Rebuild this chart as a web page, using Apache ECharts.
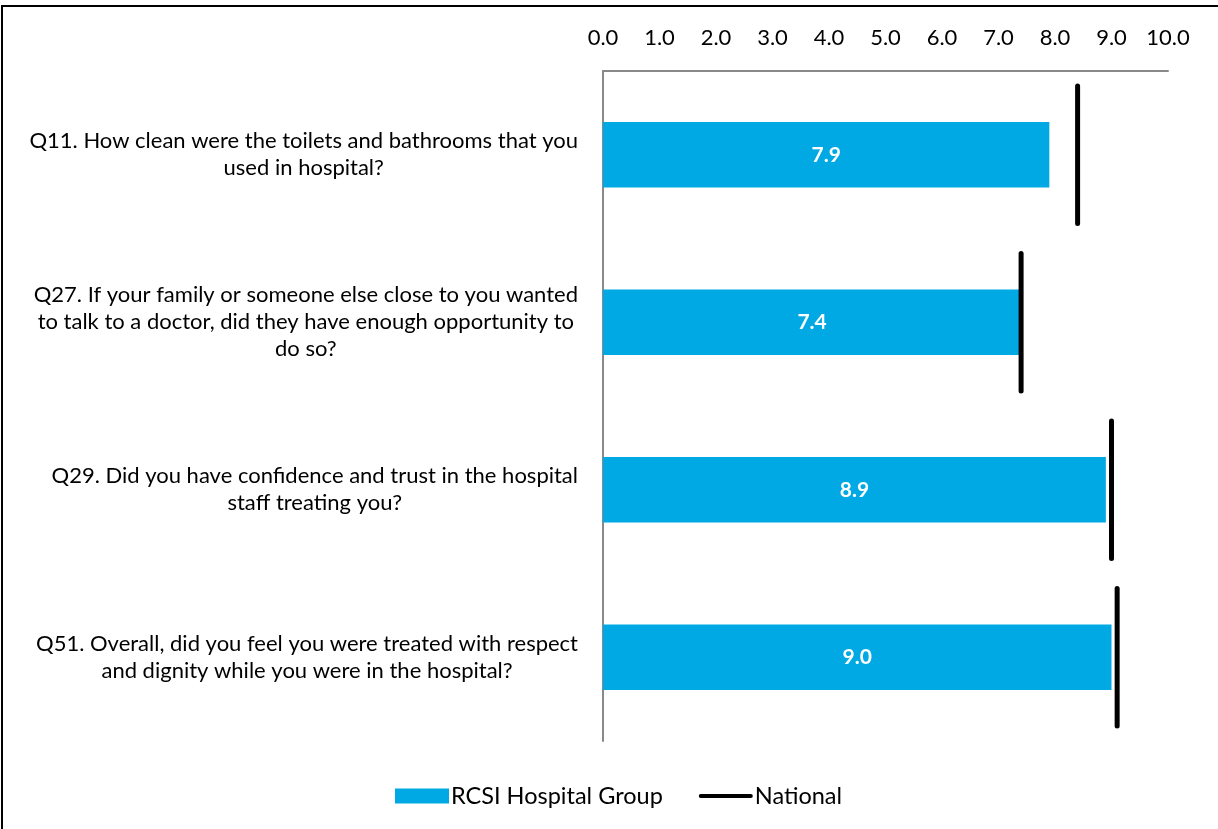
<!DOCTYPE html>
<html>
<head>
<meta charset="utf-8">
<script src="https://cdn.jsdelivr.net/npm/echarts@6/dist/echarts.min.js"></script>
<style>
  html, body { margin: 0; padding: 0; background: #fff; }
  #chart { width: 1218px; height: 829px; }
</style>
</head>
<body>
<div id="chart"></div>
<script>
// Survey questions (each entry is one label, split into its display lines)
const questions = [
  ['Q11. How clean were the toilets and bathrooms that you', 'used in hospital?'],
  ['Q27. If your family or someone else close to you wanted', 'to talk to a doctor, did they have enough opportunity to', 'do so?'],
  ['Q29. Did you have confidence and trust in the hospital', 'staff treating you?'],
  ['Q51. Overall, did you feel you were treated with respect', 'and dignity while you were in the hospital?']
];
// Mean scores (0-10)
const groupScores = [7.9, 7.4, 8.9, 9.0];
const nationalScores = [8.4, 7.4, 9.0, 9.1];
const seriesNames = ['RCSI Hospital Group', 'National'];
const scaleTicks = [0, 1, 2, 3, 4, 5, 6, 7, 8, 9, 10];

const FONT = 'Lato, "Open Sans", sans-serif';
const chart = echarts.init(document.getElementById('chart'), null, { renderer: 'canvas' });

// Each label line is a centred rich token, so lines centre inside a right-aligned block
const categoryKeys = questions.map((q, i) => 'q' + i);
const labelText = {};
questions.forEach((q, i) => { labelText[categoryKeys[i]] = q.map(l => '{c|' + l + '}').join('\n'); });

const option = {
  animation: false,
  backgroundColor: '#ffffff',
  textStyle: { fontFamily: FONT },
  grid: { left: 603, right: 50, top: 71, bottom: 88, containLabel: false },
  legend: {
    top: 779,
    left: 390,
    itemGap: 36,
    itemWidth: 54,
    itemHeight: 15,
    textStyle: { fontFamily: FONT, fontSize: 23.5, color: '#000', padding: [0, 0, 0, -3] },
    data: [
      { name: seriesNames[0], icon: 'rect' },
      { name: seriesNames[1], icon: 'path://M2,0 L54,0 A2,2 0 0 1 54,4 L2,4 A2,2 0 0 1 2,0 Z' }
    ]
  },
  xAxis: {
    type: 'value',
    position: 'top',
    min: scaleTicks[0],
    max: scaleTicks[scaleTicks.length - 1],
    interval: 1,
    axisLine: { show: true, lineStyle: { color: '#898989', width: 2 } },
    axisTick: { show: false },
    splitLine: { show: false },
    axisLabel: {
      margin: 22,
      fontFamily: FONT,
      fontSize: 22,
      color: '#000',
      formatter: v => v.toFixed(1)
    }
  },
  yAxis: {
    type: 'category',
    inverse: true,
    data: categoryKeys,
    axisLine: { show: true, lineStyle: { color: '#898989', width: 2 } },
    axisTick: { show: false },
    axisLabel: {
      margin: 25,
      align: 'right',
      fontFamily: FONT,
      fontSize: 22,
      lineHeight: 27,
      color: '#000',
      formatter: v => labelText[v],
      rich: { c: { align: 'center', fontFamily: FONT, fontSize: 22, lineHeight: 27, color: '#000' } }
    }
  },
  series: [
    {
      name: seriesNames[0],
      type: 'bar',
      data: groupScores,
      barWidth: '39%',
      itemStyle: { color: '#00a9e4' },
      label: {
        show: true,
        position: 'inside',
        color: '#fff',
        fontFamily: FONT,
        fontWeight: 'bold',
        fontSize: 21,
        formatter: p => p.value.toFixed(1)
      },
      z: 2
    },
    {
      name: seriesNames[1],
      type: 'custom',
      data: nationalScores.map((v, i) => [v, i]),
      encode: { x: 0, y: 1 },
      itemStyle: { color: '#000' },
      renderItem: function (params, api) {
        const p = api.coord([api.value(0), api.value(1)]);
        const band = api.size([0, 1])[1];
        const half = band * 0.41;
        return {
          type: 'line',
          shape: { x1: p[0], y1: p[1] - half, x2: p[0], y2: p[1] + half },
          style: { stroke: '#000', lineWidth: 5, lineCap: 'round' }
        };
      },
      z: 3
    }
  ],
  graphic: [
    {
      type: 'polyline',
      shape: { points: [[2, 829], [2, 6], [1218, 6]] },
      style: { stroke: '#000', lineWidth: 2, fill: null },
      silent: true
    }
  ]
};

chart.setOption(option);
</script>
</body>
</html>
